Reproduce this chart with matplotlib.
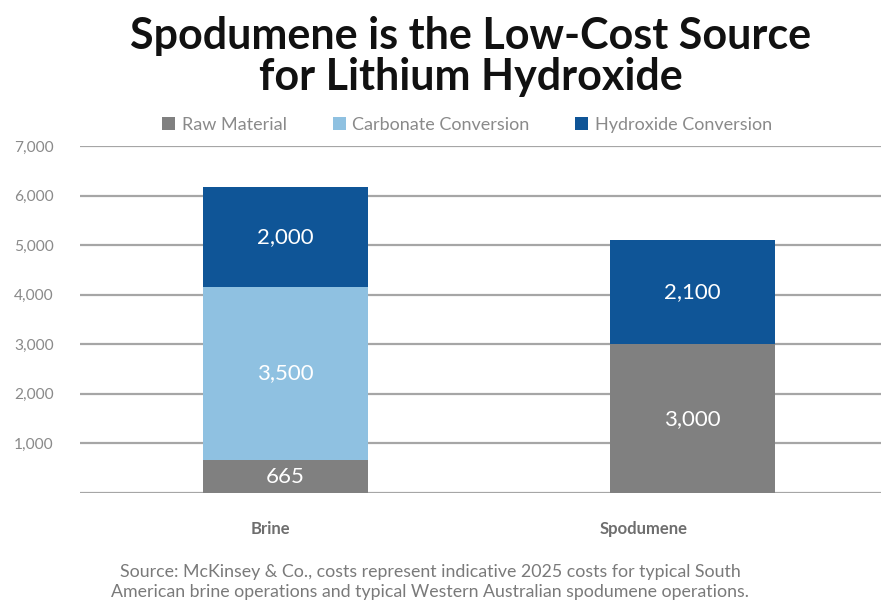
import matplotlib
matplotlib.use("Agg")
import matplotlib.pyplot as plt
import matplotlib.transforms as mtransforms
from matplotlib.patches import Patch
import numpy as np

plt.rcParams['font.family'] = ['Lato', 'DejaVu Sans']

categories = ["Brine", "Spodumene"]
series_names = ["Raw Material", "Carbonate Conversion", "Hydroxide Conversion"]
raw_material = [665, 3000]
carbonate_conversion = [3500, 0]
hydroxide_conversion = [2000, 2100]
y_ticks = [1000, 2000, 3000, 4000, 5000, 6000, 7000]
y_tick_labels = ["1,000", "2,000", "3,000", "4,000", "5,000", "6,000", "7,000"]

colors = ["#808080", "#8fc1e1", "#0f5597"]
text_gray = "#8a8a8a"

fig = plt.figure(figsize=(8.81, 6.02), dpi=100)
ax = fig.add_axes([80 / 881, 1 - 493 / 602, 801 / 881, (493 - 146) / 602])

x = np.arange(len(categories))
width = 0.405
bottoms = np.zeros(len(categories))
for vals, col in zip([raw_material, carbonate_conversion, hydroxide_conversion], colors):
    vals = np.array(vals, dtype=float)
    ax.bar(x, vals, width, bottom=bottoms, color=col, zorder=3, linewidth=0)
    for xi, v, b in zip(x, vals, bottoms):
        if v > 0:
            ax.text(xi, b + v / 2, f"{int(v):,}", ha="center", va="center",
                    color="white", fontsize=16, zorder=4)
    bottoms += vals

ax.set_xlim(-0.504, 1.464)
ax.set_ylim(0, 7000)

# horizontal gridlines including the baseline
for yv in [0] + y_ticks:
    ax.axhline(yv, color="#a6a6a6", linewidth=1.6, zorder=1)

for s in ax.spines.values():
    s.set_visible(False)

ax.set_yticks(y_ticks)
ax.set_yticklabels(y_tick_labels)
ax.tick_params(axis="y", length=0, pad=19, labelsize=11.2, labelcolor=text_gray)

ax.set_xticks(x)
ax.set_xticklabels(categories, fontweight="bold")
ax.tick_params(axis="x", length=0, pad=20, labelsize=12, labelcolor="#6e6e6e")
offsets = [-0.15, -0.49]
for lbl, off in zip(ax.get_xticklabels(), offsets):
    lbl.set_transform(lbl.get_transform() + mtransforms.ScaledTranslation(off, 0, fig.dpi_scale_trans))

handles = [Patch(facecolor=c, edgecolor="none") for c in colors]
fig.legend(handles, series_names, loc="center", bbox_to_anchor=(467 / 881, 1 - 125 / 602),
           ncol=3, frameon=False, fontsize=13, labelcolor=text_gray,
           handlelength=0.72, handleheight=0.72, handletextpad=0.35, columnspacing=2.55)

fig.text(471 / 881, 1 - 36 / 602, "Spodumene is the Low-Cost Source", ha="center", va="center",
         fontsize=31, fontweight="bold", color="#111111")
fig.text(471 / 881, 1 - 77 / 602, "for Lithium Hydroxide", ha="center", va="center",
         fontsize=31, fontweight="bold", color="#111111")

fig.text(430 / 881, 1 - 572 / 602,
         "Source: McKinsey & Co., costs represent indicative 2025 costs for typical South",
         ha="center", va="center", fontsize=12.8, color="#7a7a7a")
fig.text(430 / 881, 1 - 592 / 602,
         "American brine operations and typical Western Australian spodumene operations.",
         ha="center", va="center", fontsize=12.8, color="#7a7a7a")

fig.savefig("out.png", dpi=100, facecolor="white")
